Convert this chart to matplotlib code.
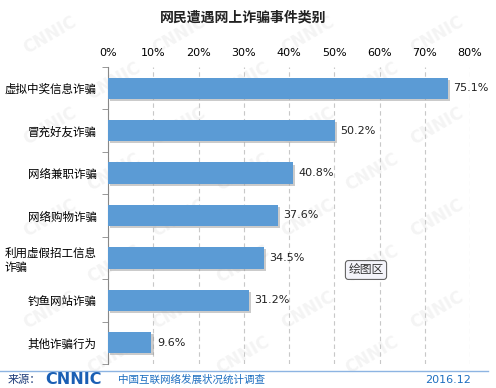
import numpy as np
import matplotlib
matplotlib.use("Agg")
import matplotlib.pyplot as plt
import matplotlib.patheffects as pe

plt.rcParams['font.family'] = ['Noto Sans CJK SC', 'DejaVu Sans']

categories = ["虚拟中奖信息诈骗", "冒充好友诈骗", "网络兼职诈骗", "网络购物诈骗",
              "利用虚假招工信息\n诈骗", "钓鱼网站诈骗", "其他诈骗行为"]
values = [75.1, 50.2, 40.8, 37.6, 34.5, 31.2, 9.6]
xticks = [0, 10, 20, 30, 40, 50, 60, 70, 80]

title = "网民遭遇网上诈骗事件类别"
bar_color = "#5B9BD5"

fig = plt.figure(figsize=(4.96, 3.88), dpi=100)

# faint watermark, kept inside the figure
for r in range(8):
    for c in range(4):
        fx = 0.1 + c * 0.26 + (r % 2) * 0.13
        fy = 0.91 - r * 0.118
        if fx > 0.92:
            continue
        fig.text(fx, fy, "CNNIC", fontsize=12, fontweight="bold", color="#f4f4f4",
                 rotation=30, ha="center", va="center", zorder=-5,
                 family="DejaVu Sans")

ax = fig.add_axes([108 / 496, 1 - 364 / 388, 362 / 496, 297 / 388])
ax.patch.set_alpha(0)
y = np.arange(len(categories))
ax.barh(y, values, height=0.5, color=bar_color, zorder=3,
        path_effects=[pe.SimplePatchShadow(offset=(1.5, -1.5), shadow_rgbFace="#999999", alpha=0.5), pe.Normal()])
for yi, v in zip(y, values):
    ax.text(v + 1.2, yi, f"{v}%", va="center", ha="left", fontsize=8, color="#222222",
            family="DejaVu Sans")

ax.set_xlim(0, 80)
ax.set_ylim(len(categories) - 0.5, -0.5)
ax.xaxis.tick_top()
ax.set_xticks(xticks)
ax.set_xticklabels([f"{t}%" for t in xticks], fontsize=8, family="DejaVu Sans")
ax.tick_params(axis="x", length=0, pad=6.5)
ax.set_yticks(np.arange(len(categories) + 1) - 0.5, minor=True)
ax.set_yticks(y)
ax.set_yticklabels(categories, fontsize=8.3, multialignment="left")
ax.tick_params(axis="y", which="major", length=0, pad=8)
ax.tick_params(axis="y", which="minor", length=4, color="#888888")
ax.grid(axis="x", color="#c8c8c8", linestyle=(0, (4, 3)), linewidth=0.8, zorder=1)
for s in ["top", "right", "bottom"]:
    ax.spines[s].set_visible(False)
ax.spines["left"].set_color("#888888")

fig.text(243 / 496, 1 - 18 / 388, title, fontsize=10, fontweight="bold",
         ha="center", va="center", color="#222222")

ax.text(366 / 496, 1 - 270 / 388, "绘图区", transform=fig.transFigure, fontsize=8.5,
        ha="center", va="center", color="#333333", zorder=5,
        bbox=dict(boxstyle="round,pad=0.25", fc="#f4f4fa", ec="#666666", lw=0.8))

# footer
fig.add_artist(plt.Line2D([0, 488 / 496], [1 - 371 / 388] * 2, color="#8db4e2", lw=1))
fig.text(8 / 496, 1 - 380 / 388, "来源：", fontsize=8, color="#1f3d7a", va="center")
fig.text(45 / 496, 1 - 380 / 388, "CNNIC", fontsize=11.5, fontweight="bold", color="#1a5fb4",
         va="center", family="DejaVu Sans")
fig.text(118 / 496, 1 - 380 / 388, "中国互联网络发展状况统计调查", fontsize=7.6,
         color="#1e6fc0", va="center")
fig.text(471 / 496, 1 - 380 / 388, "2016.12", fontsize=8, color="#1e6fc0",
         va="center", ha="right", family="DejaVu Sans")

fig.savefig("out.png", dpi=100)
